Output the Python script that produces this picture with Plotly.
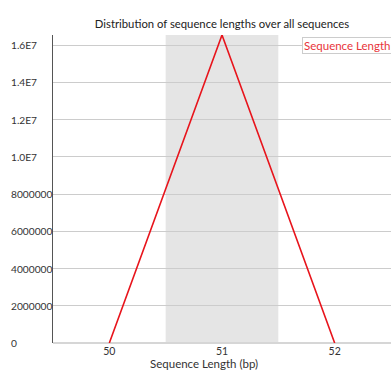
import plotly.graph_objects as go

# Sequence length distribution (counts per read length)
lengths = [50, 51, 52]
counts = [0, 16540000, 0]

y_tick_values = [0, 2000000, 4000000, 6000000, 8000000, 10000000, 12000000, 14000000, 16000000]
y_tick_labels = ["0", "2000000", "4000000", "6000000", "8000000", "1.0E7", "1.2E7", "1.4E7", "1.6E7"]
x_tick_values = [50, 51, 52]
x_tick_labels = ["50", "51", "52"]

FONT = "Lato, Open Sans, sans-serif"
W, H = 391, 370
ML, MR, MT, MB = 53, 0, 35, 27
plot_w = W - ML - MR
plot_h = H - MT - MB

fig = go.Figure()
fig.add_trace(go.Scatter(
    x=lengths, y=counts, mode="lines",
    line=dict(color="#e8141c", width=1.6),
    cliponaxis=False, showlegend=False, hoverinfo="skip",
))

# Alternating band behind the middle length
fig.add_shape(type="rect", xref="x", yref="paper",
              x0=50.5, x1=51.5, y0=0, y1=1,
              fillcolor="#e5e5e5", line_width=0, layer="below")

# Left-aligned y tick labels
for v, t in zip(y_tick_values, y_tick_labels):
    fig.add_annotation(text=t, xref="paper", yref="y",
                       x=(9 - ML) / plot_w, y=v, xanchor="left", yanchor="middle",
                       showarrow=False, font=dict(family=FONT, size=10.2, color="#333333"))

# X axis title
fig.add_annotation(text="Sequence Length (bp)", xref="paper", yref="paper",
                   x=(204 - ML) / plot_w, y=-(363 - (H - MB)) / plot_h,
                   xanchor="center", yanchor="middle", showarrow=False,
                   font=dict(family=FONT, size=11.5, color="#333333"))

# Series label box
fig.add_annotation(text="Sequence Length", xref="paper", yref="paper",
                   x=(302 - ML) / plot_w, y=1 - (37 - MT) / plot_h,
                   xanchor="left", yanchor="top", showarrow=False,
                   font=dict(family=FONT, size=11.5, color="#e8343a"),
                   bordercolor="#cccccc", borderwidth=1, borderpad=1,
                   bgcolor="white")

fig.update_layout(
    width=W, height=H,
    margin=dict(l=ML, r=MR, t=MT, b=MB),
    paper_bgcolor="white", plot_bgcolor="white",
    title=dict(text="Distribution of sequence lengths over all sequences",
               x=222 / W, xanchor="center", y=1 - 24.5 / H, yanchor="middle",
               font=dict(family=FONT, size=11.3, color="#222222")),
    font=dict(family=FONT, size=11, color="#333333"),
    xaxis=dict(range=[49.5, 52.5], tickvals=x_tick_values, ticktext=x_tick_labels,
               showgrid=False, zeroline=False, showline=False, ticks="",
               tickfont=dict(family=FONT, size=10.5, color="#333333")),
    yaxis=dict(range=[0, 16540000], tickvals=y_tick_values, showticklabels=False,
               showgrid=True, gridcolor="#cccccc", gridwidth=1,
               zeroline=True, zerolinecolor="#d6d6d6", zerolinewidth=2,
               showline=True, linecolor="#555555", linewidth=1, ticks=""),
)

fig.write_html("out.html")
